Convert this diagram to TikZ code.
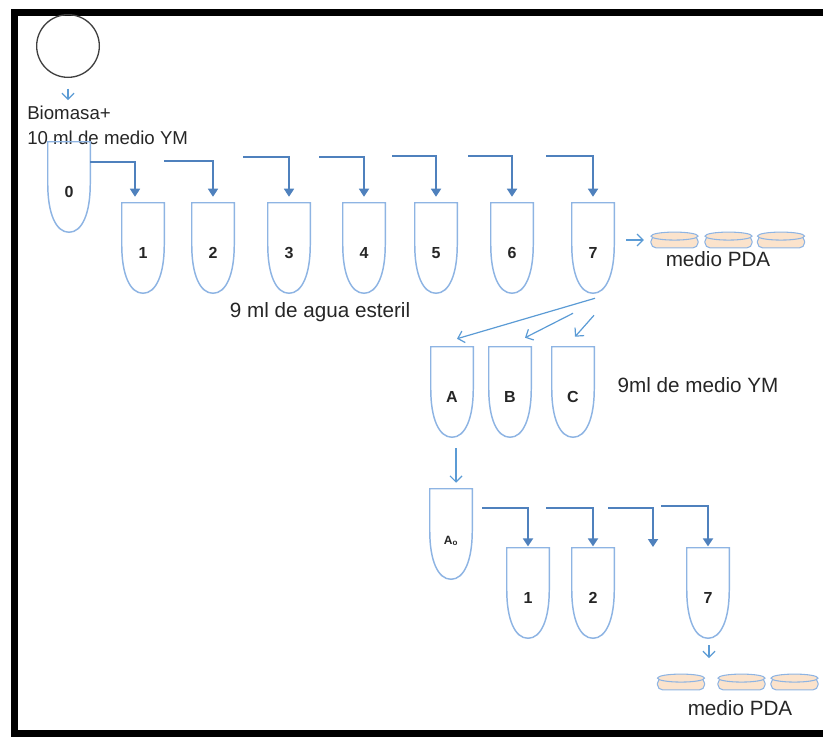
\documentclass[tikz,border=0pt]{standalone}
\usepackage{fontspec}
\setmainfont{Liberation Sans}
\usetikzlibrary{calc,arrows.meta,positioning}
\definecolor{tubeblue}{HTML}{8EB4E3}
\definecolor{flowblue}{HTML}{4F81BD}
\definecolor{pourblue}{HTML}{5B9BD5}
\definecolor{dishfill}{HTML}{FBE3CC}
\definecolor{inkgray}{HTML}{262626}

\tikzset{
  tube/.style={minimum width=31.5pt, minimum height=67.5pt, inner sep=0pt, text height=15.5pt, text depth=0pt, text=inkgray, font=\bfseries\fontsize{12}{14}\selectfont},
  tubeline/.style={draw=tubeblue, line width=1.1pt},
  flow/.style={draw=flowblue, line width=1.3pt, -{Triangle[length=6pt,width=7.5pt]}},
  pour/.style={draw=pourblue, line width=0.9pt, -{Straight Barb[length=4.5pt,width=9pt]}},
  dish/.style={minimum width=35pt, minimum height=11.5pt, inner sep=0pt},
  dishline/.style={fill=dishfill, draw=tubeblue, line width=0.8pt},
  lbl/.style={text=inkgray, font=\fontsize{15.5}{18}\selectfont}
}

\begin{document}
\begin{tikzpicture}[x=0.75pt, y=-0.75pt]
    \useasboundingbox (0,0) rectangle (823,736);

    % Frame
    \draw[line width=5.25pt] (830,12) -- (14.5,12) -- (14.5,733) -- (830,733);

    % Biomass
    \node[circle, draw=black!75, line width=1pt, minimum size=47pt] (circ) at (68,46) {};
    \node[anchor=north west, align=left, inner sep=0pt, text=inkgray, font=\fontsize{14}{18.75}\selectfont] (bio) at (27,106) {Biomasa+\\10 ml de medio YM};
    \draw[pour, shorten <=8pt, shorten >=4.5pt] (circ.south) -- (circ.south |- bio.north);

    % Tubes
    \node[tube] (t0) at (69,187) {0};
    \node[tube] (t1) at (143,248) {1};
    \node[tube] (t2) at (213,248) {2};
    \node[tube] (t3) at (289,248) {3};
    \node[tube] (t4) at (364,248) {4};
    \node[tube] (t5) at (436,248) {5};
    \node[tube] (t6) at (512,248) {6};
    \node[tube] (t7) at (593,248) {7};

    \node[tube] (a) at (452,392) {A};
    \node[tube] (b) at (510,392) {B};
    \node[tube] (c) at (573,392) {C};

    \node[tube, font=\bfseries\fontsize{9}{11}\selectfont] (a0) at (451,534) {A\textsubscript{o}};
    \node[tube] (s1) at (528,593) {1};
    \node[tube] (s2) at (593,593) {2};
    \node[tube] (s7) at (708,593) {7};

    \foreach \t in {t0,t1,t2,t3,t4,t5,t6,t7,a,b,c,a0,s1,s2,s7}
        \draw[tubeline] (\t.north west) -- ($(\t.north west)+(0,42)$)
            .. controls ($(\t.north west)+(0,72)$) and ($(\t.south)+(-13,0)$) .. (\t.south)
            .. controls ($(\t.south)+(13,0)$) and ($(\t.north east)+(0,72)$) .. ($(\t.north east)+(0,42)$)
            -- (\t.north east) -- cycle;

    % Petri dishes
    \node[dish] (d1) at (674.5,240) {};
    \node[dish] (d2) at (728.5,240) {};
    \node[dish] (d3) at (781,240) {};
    \node[dish] (e1) at (681,682) {};
    \node[dish] (e2) at (741.5,682) {};
    \node[dish] (e3) at (794.5,682) {};

    \foreach \d in {d1,d2,d3,e1,e2,e3} {
        \filldraw[dishline, rounded corners=4pt] ($(\d.north west)+(0,4)$) rectangle (\d.south east);
        \filldraw[dishline] ($(\d.north)+(0,4)$) ellipse [x radius=23.5, y radius=4];
    }

    % Serial dilution
    \draw[flow, shorten >=4.5pt] ($(t0.north east)+(0,20)$) -| ($(t1.north)+(-8,0)$);
    \foreach \i/\sx/\sy in {2/164/161, 3/243/157, 4/319/157, 5/392/156, 6/468/156, 7/546/156} {
        \coordinate (j\i) at (\sx,\sy);
        \draw[flow, shorten >=4.5pt] (j\i) -| (t\i.north);
    }

    \draw[pour] ($(t7.south)+(2,5)$) -- ($(a.north)+(5,-8)$);
    \draw[pour] ($(t7.south)+(-20,20)$) -- ($(b.north)+(15,-9)$);
    \draw[pour] ($(t7.south)+(1,22)$) -- ($(c.north)+(2,-10)$);
    \draw[pour] ($(t7.east)+(12,-8)$) -- ($(d1.west)+(-7,0)$);

    \draw[pour] ($(a.south)+(4,11)$) -- ($(a0.north)+(5,-6)$);

    \draw[flow, shorten >=1pt] ($(a0.north east)+(10,19)$) -| (s1.north);
    \draw[flow, shorten >=1pt] ($(s1.north east)+(-3,-40)$) -| (s2.north);
    \coordinate (gap) at (653,547);
    \draw[flow] ($(s2.north east)+(-6,-40)$) -| (gap);
    \draw[flow, shorten >=1pt] ($(s2.north east)+(47,-42)$) -| (s7.north);

    \coordinate (drop) at (709,658);
    \draw[pour] ($(s7.south)+(1,7)$) -- (drop);

    % Labels
    \node[lbl] (agua) at (320,312) {9 ml de agua esteril};
    \node[lbl] (ym) at (698,385) {9ml de medio YM};
    \node[lbl] (pda1) at (718,259) {medio PDA};
    \node[lbl] (pda2) at (740,708) {medio PDA};

\end{tikzpicture}
\end{document}
